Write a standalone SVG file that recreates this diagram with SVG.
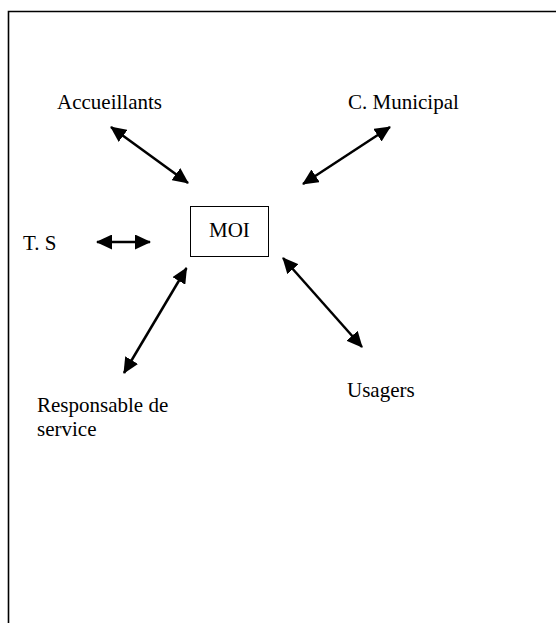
<svg xmlns="http://www.w3.org/2000/svg" width="556" height="623" viewBox="0 0 556 623">
<style>
  .t { font-family: "Liberation Serif", "DejaVu Serif", "Times New Roman", serif; font-size: 21px; fill: #000; }
  .conn line { stroke: #000; stroke-width: 2.5; }
  .frame { stroke: #000; stroke-width: 1.6; fill: none; }
</style>
<defs>
  <marker id="ah" viewBox="0 0 16 15" refX="15" refY="7.5" markerWidth="16" markerHeight="15" markerUnits="userSpaceOnUse" orient="auto-start-reverse">
    <path d="M0,0 L16,7.5 L0,15 z" fill="#000"/>
  </marker>
</defs>
<rect width="556" height="623" fill="#fff"/>
<path class="frame" d="M8.5,623 L8.5,11.5 L556,11.5"/>
<g font-family="Liberation Serif, DejaVu Serif, serif" font-size="21">
<g id="moi">
  <rect x="190.5" y="206.5" width="78" height="50" fill="#fff" stroke="#000" stroke-width="1"/>
  <text class="t" x="209" y="237">MOI</text>
</g>
<g id="accueillants"><text class="t" x="57" y="109">Accueillants</text></g>
<g id="municipal"><text class="t" x="348" y="109">C. Municipal</text></g>
<g id="ts"><text class="t" x="23" y="250">T. S</text></g>
<g id="responsable"><text class="t" x="37" y="412">Responsable de</text><text class="t" x="37" y="436">service</text></g>
<g id="usagers"><text class="t" x="347" y="397">Usagers</text></g>
</g>
<g class="conn" id="connectors">
  <line x1="111" y1="127" x2="188" y2="183" marker-start="url(#ah)" marker-end="url(#ah)"/>
  <line x1="390" y1="127" x2="303" y2="184" marker-start="url(#ah)" marker-end="url(#ah)"/>
  <line x1="97" y1="242" x2="150" y2="242" marker-start="url(#ah)" marker-end="url(#ah)"/>
  <line x1="186.5" y1="268" x2="124" y2="373" marker-start="url(#ah)" marker-end="url(#ah)"/>
  <line x1="283" y1="258" x2="362" y2="347" marker-start="url(#ah)" marker-end="url(#ah)"/>
</g>
</svg>
